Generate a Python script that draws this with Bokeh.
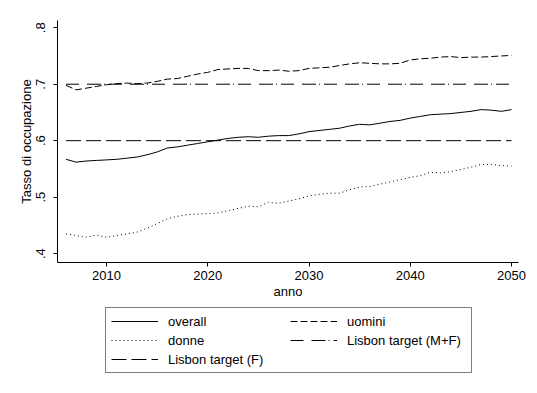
from bokeh.plotting import figure
from bokeh.layouts import column
from bokeh.models import Legend, LegendItem, CustomJSTickFormatter, FixedTicker, Range1d
from bokeh.embed import file_html
from bokeh.resources import INLINE

years = list(range(2006, 2051))

overall = [0.567, 0.562, 0.564, 0.565, 0.566, 0.567, 0.569, 0.571, 0.575, 0.580,
           0.587, 0.589, 0.592, 0.595, 0.598, 0.601, 0.604, 0.606, 0.607, 0.606,
           0.608, 0.609, 0.609, 0.612, 0.616, 0.618, 0.620, 0.622, 0.626, 0.629,
           0.628, 0.631, 0.634, 0.636, 0.640, 0.643, 0.646, 0.647, 0.648, 0.650,
           0.652, 0.655, 0.654, 0.652, 0.655]

uomini = [0.698, 0.690, 0.693, 0.696, 0.699, 0.701, 0.702, 0.701, 0.702, 0.705,
          0.709, 0.710, 0.714, 0.718, 0.721, 0.726, 0.727, 0.728, 0.728, 0.724,
          0.724, 0.725, 0.723, 0.724, 0.728, 0.729, 0.730, 0.733, 0.736, 0.738,
          0.737, 0.736, 0.736, 0.737, 0.743, 0.745, 0.746, 0.748, 0.749, 0.747,
          0.748, 0.748, 0.749, 0.750, 0.751]

donne = [0.435, 0.432, 0.429, 0.433, 0.429, 0.432, 0.435, 0.438, 0.445, 0.453,
         0.462, 0.466, 0.469, 0.470, 0.471, 0.472, 0.476, 0.480, 0.484, 0.483,
         0.491, 0.489, 0.493, 0.497, 0.502, 0.505, 0.507, 0.507, 0.513, 0.518,
         0.519, 0.523, 0.527, 0.531, 0.535, 0.538, 0.544, 0.543, 0.545, 0.549,
         0.553, 0.558, 0.558, 0.556, 0.555]

target_mf = 0.7
target_f = 0.6

x_ticks = [2010, 2020, 2030, 2040, 2050]
y_ticks = [0.4, 0.5, 0.6, 0.7, 0.8]

labels = ["overall", "uomini", "donne", "Lisbon target (M+F)", "Lisbon target (F)"]
dashes = ["solid", "7 3", "1 3", "13 8 14 3 1 4", "15 5"]

FONT = "Liberation Sans"
FS = "13px"

p = figure(width=530, height=301, x_range=(2005.16, 2050.69), y_range=(0.3843, 0.8128),
           output_backend="svg", toolbar_location=None,
           min_border_left=57, min_border_right=12, min_border_top=20, min_border_bottom=36)
p.outline_line_color = None
p.xgrid.visible = False
p.ygrid.visible = False
p.background_fill_color = "white"
p.border_fill_color = "white"

p.line(years, overall, line_color="black", line_width=1, line_dash=dashes[0])
p.line(years, uomini, line_color="black", line_width=1, line_dash=dashes[1])
p.line(years, donne, line_color="black", line_width=1, line_dash=dashes[2])
p.line([years[0], years[-1]], [target_mf, target_mf], line_color="black",
       line_width=1, line_dash=dashes[3])
p.line([years[0], years[-1]], [target_f, target_f], line_color="black",
       line_width=1, line_dash=dashes[4])

for ax in (p.xaxis[0], p.yaxis[0]):
    ax.axis_line_color = "black"
    ax.major_tick_line_color = "black"
    ax.major_tick_out = 4
    ax.major_tick_in = 0
    ax.minor_tick_line_color = None
    ax.major_label_text_font = FONT
    ax.major_label_text_font_size = FS
    ax.major_label_text_color = "black"
    ax.axis_label_text_font = FONT
    ax.axis_label_text_font_size = FS
    ax.axis_label_text_font_style = "normal"
    ax.axis_label_text_color = "black"

p.xaxis.ticker = FixedTicker(ticks=x_ticks)
p.yaxis.ticker = FixedTicker(ticks=y_ticks)
p.yaxis.formatter = CustomJSTickFormatter(code="return tick.toFixed(1).replace(/^0/, '');")
p.yaxis.major_label_orientation = "vertical"
p.xaxis.axis_label = "anno"
p.yaxis.axis_label = "Tasso di occupazione"
p.xaxis.major_label_standoff = 4
p.xaxis.axis_label_standoff = 1
p.yaxis.major_label_standoff = 8
p.yaxis.axis_label_standoff = 0

# Legend panel (separate figure below the plot; frames are aligned by the column)
lf = figure(width=530, height=82, x_range=Range1d(0, 1), y_range=Range1d(0, 1),
            output_backend="svg", toolbar_location=None,
            x_axis_location=None, y_axis_location=None,
            min_border_left=57, min_border_right=12, min_border_top=0, min_border_bottom=0)
lf.outline_line_color = None
lf.xgrid.visible = False
lf.ygrid.visible = False
lf.background_fill_color = "white"
lf.border_fill_color = "white"

items = []
for lab, d in zip(labels, dashes):
    r = lf.line(x=[float("nan")], y=[float("nan")], line_color="black", line_width=1, line_dash=d)
    items.append(LegendItem(label=lab, renderers=[r]))

legend = Legend(items=items, location=(48, 10), orientation="horizontal", ncols=2)
legend.border_line_color = "black"
legend.border_line_width = 1
legend.background_fill_color = "white"
legend.background_fill_alpha = 1
legend.label_text_font = FONT
legend.label_text_font_size = FS
legend.label_text_color = "black"
legend.glyph_width = 47
legend.glyph_height = 16
legend.label_height = 16
legend.label_width = 119
legend.label_standoff = 10
legend.padding = 5
legend.spacing = 3
legend.margin = 0
lf.add_layout(legend)

layout = column(p, lf, spacing=0)
open("out.html", "w").write(file_html(layout, INLINE))
